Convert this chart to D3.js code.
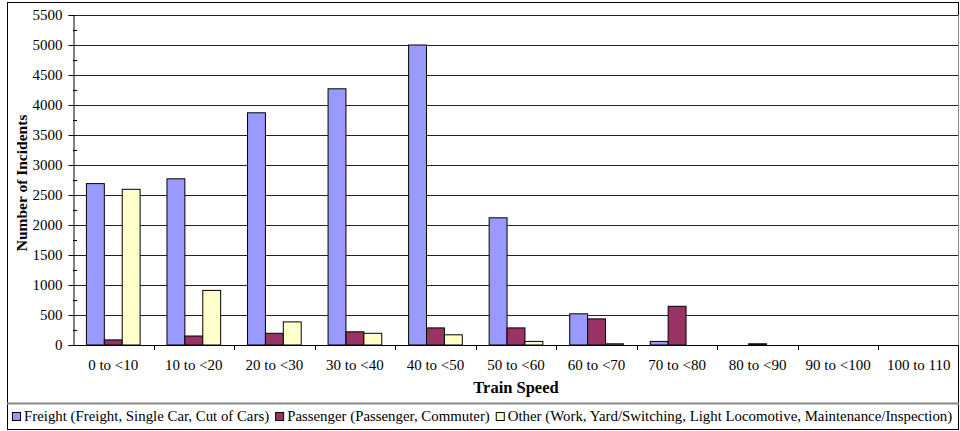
<!DOCTYPE html>
<html>
<head>
<meta charset="utf-8">
<script src="https://cdn.jsdelivr.net/npm/d3@7"></script>
<style>
  body { margin: 0; background: #fff; }
  svg { display: block; }
  svg text { font-family: "Liberation Serif", "Times New Roman", "DejaVu Serif", serif; }
</style>
</head>
<body>
<div id="chart"></div>
<script>
// data
var categories = ["0 to <10", "10 to <20", "20 to <30", "30 to <40", "40 to <50", "50 to <60",
                  "60 to <70", "70 to <80", "80 to <90", "90 to <100", "100 to 110"];
var freight   = [2690, 2770, 3870, 4270, 5000, 2120, 520, 60, 0, 0, 0];
var passenger = [85, 150, 195, 220, 285, 285, 435, 645, 20, 0, 0];
var other     = [2595, 910, 385, 195, 170, 60, 20, 0, 0, 0, 0];
var seriesNames = ["Freight (Freight, Single Car, Cut of Cars)",
                   "Passenger (Passenger, Commuter)",
                   "Other (Work, Yard/Switching, Light Locomotive, Maintenance/Inspection)"];
var yTicks = [0, 500, 1000, 1500, 2000, 2500, 3000, 3500, 4000, 4500, 5000, 5500];

const colors = ["#9999ff", "#993366", "#ffffcc"];
var seriesValues = [freight, passenger, other];

var width = 960, height = 431;
var plot = {left: 73, right: 959, top: 15, bottom: 345};

let svg = d3.select("#chart")
            .append("svg")
            .attr("width", width)
            .attr("height", height);

// outer chart border
svg.append("rect")
   .attr("x", 7.5).attr("y", 2.5)
   .attr("width", 951).attr("height", 427)
   .attr("fill", "none")
   .attr("stroke", "#000")
   .attr("stroke-width", 1);

var x0 = d3.scaleBand()
           .domain(categories)
           .range([plot.left, plot.right])
           .paddingInner(0).paddingOuter(0);

var x1 = d3.scaleBand()
           .domain([0, 1, 2])
           .range([0, x0.bandwidth()])
           .paddingInner(0).paddingOuter(0.75);

var y = d3.scaleLinear()
          .domain([0, 5500])
          .range([plot.bottom, plot.top]);

// gridlines
svg.append("g")
   .selectAll("line")
   .data(yTicks.filter(d => d > 0))
   .enter()
   .append("line")
   .attr("x1", plot.left)
   .attr("x2", plot.right)
   .attr("y1", d => Math.round(y(d)) + 0.5)
   .attr("y2", d => Math.round(y(d)) + 0.5)
   .attr("stroke", "#222")
   .attr("stroke-width", 1);

// right plot edge
svg.append("line")
   .attr("x1", plot.right - 0.5).attr("x2", plot.right - 0.5)
   .attr("y1", plot.top).attr("y2", plot.bottom)
   .attr("stroke", "#888");

// bars
var groups = svg.append("g")
   .selectAll("g")
   .data(categories)
   .enter()
   .append("g")
   .attr("transform", d => "translate(" + x0(d) + ",0)");

groups.selectAll("rect")
   .data((d, i) => seriesValues.map((s, k) => ({k: k, v: s[i]})))
   .enter()
   .filter(d => d.v > 0)
   .append("rect")
   .attr("x", d => x1(d.k))
   .attr("y", d => y(d.v))
   .attr("width", x1.bandwidth())
   .attr("height", d => y(0) - y(d.v))
   .attr("fill", d => colors[d.k])
   .attr("stroke", "#000")
   .attr("stroke-width", 1);

// y axis
var yAxis = d3.axisLeft(y)
              .tickValues(yTicks)
              .tickSize(5)
              .tickPadding(6)
              .tickFormat(d3.format("d"));

let yAxisG = svg.append("g")
   .attr("transform", "translate(" + (plot.left + 0.5) + ",0)")
   .call(yAxis)
   .attr("font-family", null);
yAxisG.select(".domain").attr("stroke", "#000");
yAxisG.selectAll("text")
   .attr("font-size", 15)
   .attr("fill", "#000");

// minor ticks inside
svg.append("g")
   .selectAll("line")
   .data(d3.range(250, 5500, 500))
   .enter()
   .append("line")
   .attr("x1", plot.left)
   .attr("x2", plot.left + 4)
   .attr("y1", d => Math.round(y(d)) + 0.5)
   .attr("y2", d => Math.round(y(d)) + 0.5)
   .attr("stroke", "#000");

// x axis
svg.append("line")
   .attr("x1", plot.left).attr("x2", plot.right)
   .attr("y1", plot.bottom + 0.5).attr("y2", plot.bottom + 0.5)
   .attr("stroke", "#000");

svg.append("g")
   .selectAll("line")
   .data(categories.slice(1))
   .enter()
   .append("line")
   .attr("x1", d => Math.round(x0(d)) + 0.5)
   .attr("x2", d => Math.round(x0(d)) + 0.5)
   .attr("y1", plot.bottom)
   .attr("y2", plot.bottom + 5)
   .attr("stroke", "#000");

svg.append("g")
   .selectAll("text")
   .data(categories)
   .enter()
   .append("text")
   .attr("x", d => x0(d) + x0.bandwidth() / 2)
   .attr("y", 370)
   .attr("text-anchor", "middle")
   .attr("font-size", 15)
   .text(d => d);

// axis titles
svg.append("text")
   .attr("x", (plot.left + plot.right) / 2)
   .attr("y", 393)
   .attr("text-anchor", "middle")
   .attr("font-size", 16.5)
   .attr("font-weight", "bold")
   .text("Train Speed");

svg.append("text")
   .attr("transform", "translate(27," + ((plot.top + plot.bottom) / 2 + 3) + ") rotate(-90)")
   .attr("text-anchor", "middle")
   .attr("font-size", 15.5)
   .attr("font-weight", "bold")
   .text("Number of Incidents");

// legend box
svg.append("line")
   .attr("x1", 7).attr("x2", 959)
   .attr("y1", 403.5).attr("y2", 403.5)
   .attr("stroke", "#888").attr("stroke-width", 2);

var legendX = 12;
seriesNames.forEach(function(name, k) {
    svg.append("rect")
       .attr("x", legendX + 0.5)
       .attr("y", 412.5)
       .attr("width", 8)
       .attr("height", 8)
       .attr("fill", colors[k])
       .attr("stroke", "#000");
    let t = svg.append("text")
       .attr("x", legendX + 12)
       .attr("y", 421)
       .attr("font-size", 14.85)
       .text(name);
    legendX += 12 + t.node().getComputedTextLength() + 6;
});
</script>
</body>
</html>
